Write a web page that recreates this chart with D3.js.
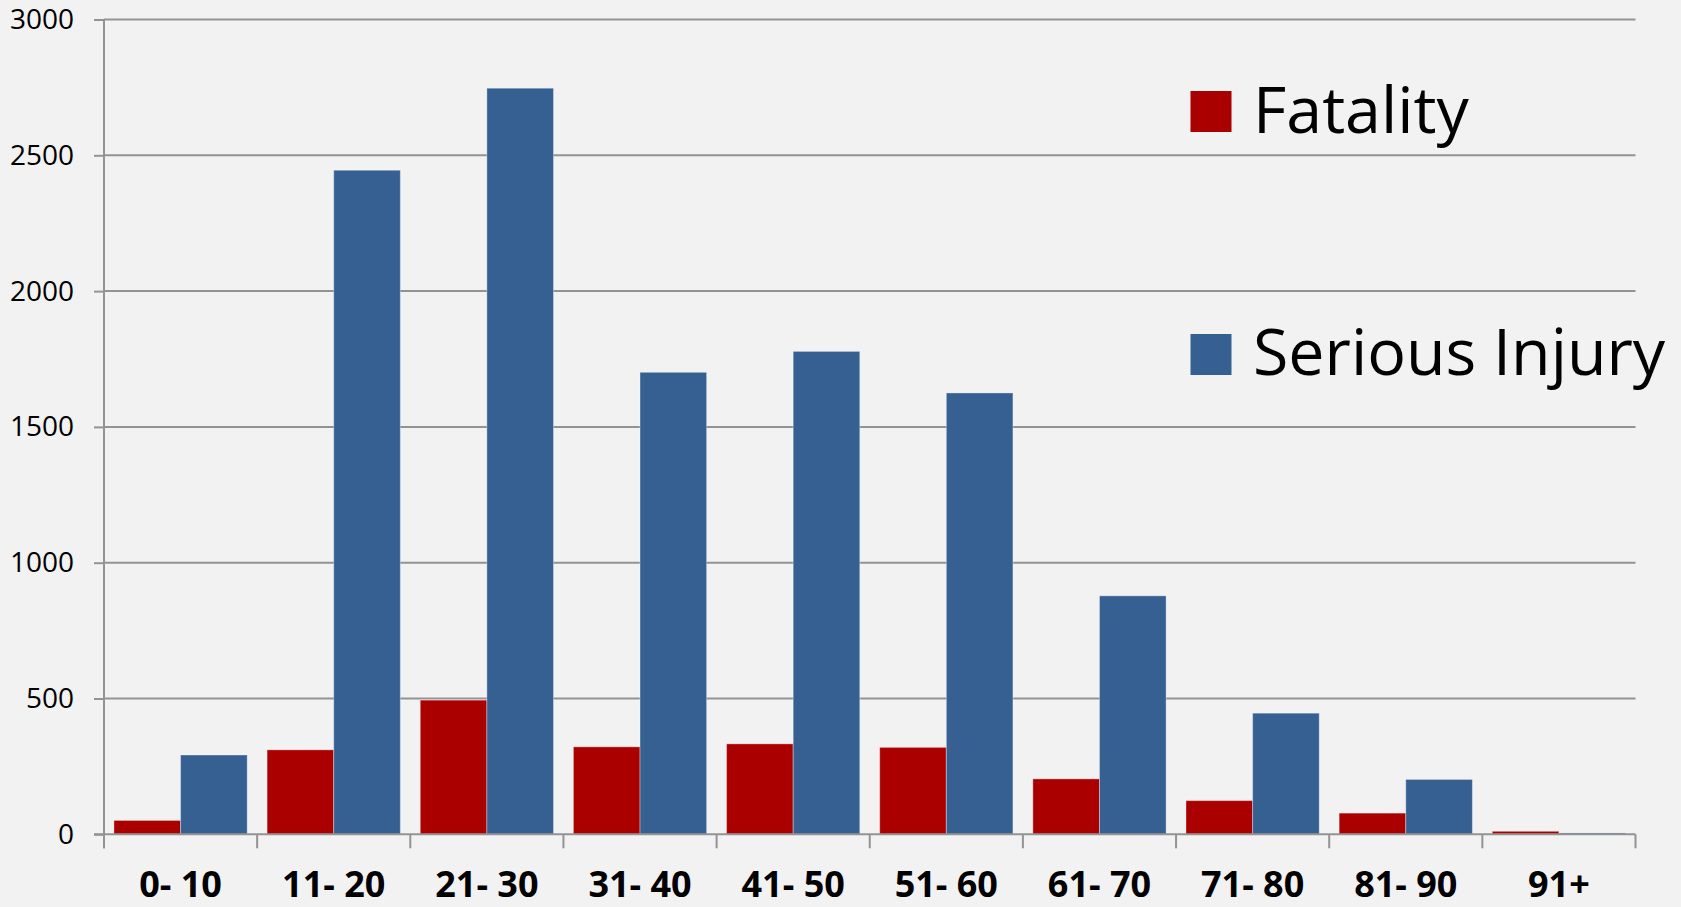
<!DOCTYPE html>
<html>
<head>
<meta charset="utf-8">
<script src="https://cdn.jsdelivr.net/npm/d3@7"></script>
<style>
  html, body { margin: 0; padding: 0; background: #f2f2f2; }
  svg { display: block; }
  text { font-family: "Open Sans", "Noto Sans", sans-serif; fill: #000; }
</style>
</head>
<body>
<svg id="chart" width="1681" height="907"></svg>
<script>
const categories = ["0- 10", "11- 20", "21- 30", "31- 40", "41- 50", "51- 60", "61- 70", "71- 80", "81- 90", "91+"];
const seriesNames = ["Fatality", "Serious Injury"];
const fatality = [51, 311, 494, 322, 333, 320, 204, 124, 78, 11];
const seriousInjury = [292, 2445, 2747, 1701, 1778, 1625, 878, 446, 202, 5];
const yTicks = [0, 500, 1000, 1500, 2000, 2500, 3000];
const colors = ["#aa0000", "#376092"];

const svg = d3.select("#chart");
const W = 1681, H = 907;
svg.append("rect").attr("width", W).attr("height", H).attr("fill", "#f2f2f2");

const margin = { left: 104, right: 1681 - 1635.5, top: 19.5, bottom: 907 - 834.3 };

const x = d3.scaleBand()
  .domain(categories)
  .range([margin.left, W - margin.right])
  .paddingInner(0.13)
  .paddingOuter(0.065);

const xSub = d3.scaleBand()
  .domain(seriesNames)
  .range([0, x.bandwidth()]);

const y = d3.scaleLinear()
  .domain([0, 3000])
  .range([H - margin.bottom, margin.top]);

const gridColor = "#939393";

// Gridlines + y-axis ticks
const yAxis = d3.axisLeft(y)
  .tickValues(yTicks)
  .tickSize(10)
  .tickPadding(20)
  .tickFormat(d3.format("d"));

const gy = svg.append("g")
  .attr("transform", `translate(${margin.left},0)`)
  .call(yAxis);
gy.select(".domain").remove();
gy.selectAll(".tick line").attr("stroke", gridColor).attr("stroke-width", 2);
gy.selectAll(".tick text")
  .style("font-size", "28px")
  .style("font-family", "'Open Sans', sans-serif")
  .attr("fill", "#000");

svg.append("g")
  .selectAll("line")
  .data(yTicks.filter(d => d !== 0))
  .join("line")
  .attr("x1", margin.left)
  .attr("x2", W - margin.right)
  .attr("y1", d => y(d))
  .attr("y2", d => y(d))
  .attr("stroke", gridColor)
  .attr("stroke-width", 2);

// Bars
const groups = svg.append("g")
  .selectAll("g")
  .data(categories.map((c, i) => ({ c, vals: [fatality[i], seriousInjury[i]] })))
  .join("g")
  .attr("transform", d => `translate(${x(d.c)},0)`);

groups.selectAll("rect")
  .data(d => d.vals.map((v, j) => ({ v, s: seriesNames[j], j })))
  .join("rect")
  .attr("x", d => xSub(d.s))
  .attr("width", xSub.bandwidth())
  .attr("y", d => y(d.v))
  .attr("height", d => y(0) - y(d.v))
  .attr("fill", d => colors[d.j])
  .attr("stroke", "rgba(255,255,255,0.35)")
  .attr("stroke-width", 1);

// Y axis line
svg.append("line")
  .attr("x1", margin.left).attr("x2", margin.left)
  .attr("y1", y(3000)).attr("y2", y(0) + 14)
  .attr("stroke", gridColor).attr("stroke-width", 2);

// X axis with ticks between categories
const xAxisLine = svg.append("g");
xAxisLine.append("line")
  .attr("x1", margin.left - 10).attr("x2", W - margin.right)
  .attr("y1", y(0)).attr("y2", y(0))
  .attr("stroke", gridColor).attr("stroke-width", 2);

const boundaries = categories.map(c => x(c) - x.step() * x.paddingInner() / 2).concat([x(categories[categories.length - 1]) + x.bandwidth() + x.step() * x.paddingInner() / 2]);
xAxisLine.selectAll("line.t")
  .data(boundaries)
  .join("line")
  .attr("class", "t")
  .attr("x1", d => d).attr("x2", d => d)
  .attr("y1", y(0)).attr("y2", y(0) + 14)
  .attr("stroke", gridColor).attr("stroke-width", 2);

svg.append("g")
  .selectAll("text")
  .data(categories)
  .join("text")
  .attr("x", d => x(d) + x.bandwidth() / 2)
  .attr("y", 897)
  .attr("text-anchor", "middle")
  .style("font-size", "36px")
  .style("font-weight", "bold")
  .text(d => d);

// Legend
const legendPos = [{ sy: 91, ty: 132.5 }, { sy: 334, ty: 375 }];
const legend = svg.append("g")
  .selectAll("g")
  .data(seriesNames)
  .join("g");
legend.append("rect")
  .attr("x", 1190.5)
  .attr("y", (d, i) => legendPos[i].sy)
  .attr("width", 41)
  .attr("height", 41)
  .attr("fill", (d, i) => colors[i]);
legend.append("text")
  .attr("x", 1253)
  .attr("y", (d, i) => legendPos[i].ty)
  .style("font-size", "64.5px")
  .text(d => d);
</script>
</body>
</html>
